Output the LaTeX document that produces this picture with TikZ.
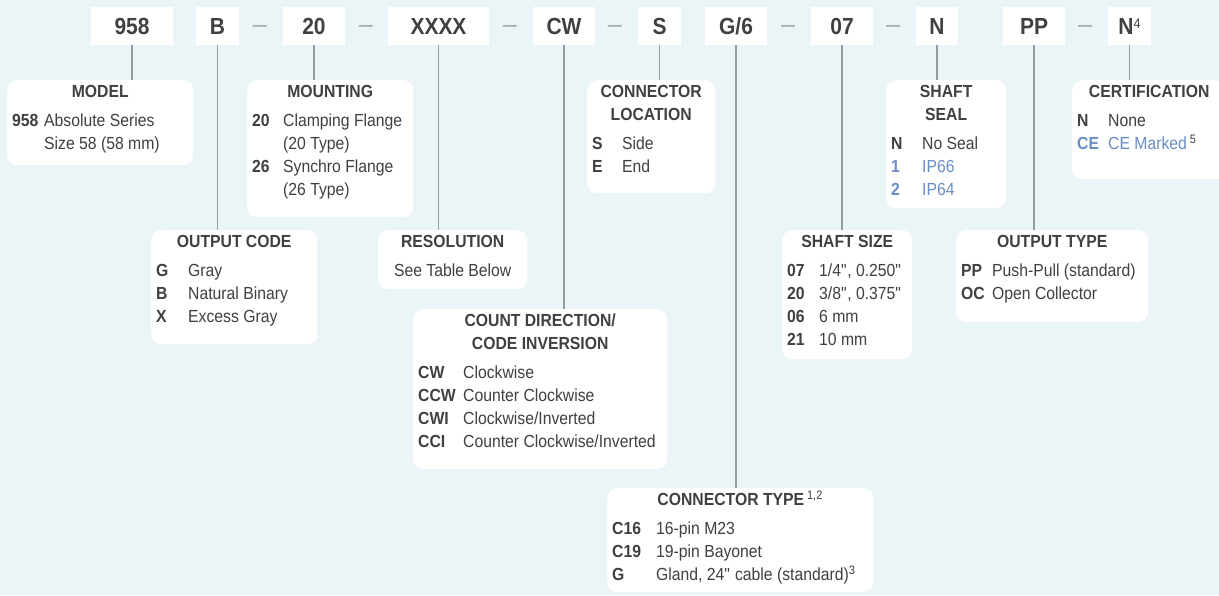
\documentclass[tikz,border=0pt]{standalone}
\usepackage{fontspec}
\setmainfont[FakeStretch=0.9]{Liberation Sans}
\usepackage{array}

\definecolor{bgblue}{HTML}{EBF4F7}
\definecolor{ink}{HTML}{404040}
\definecolor{leadgray}{HTML}{8E9EA1}
\definecolor{dashgray}{HTML}{A7B1B4}
\definecolor{optblue}{HTML}{6A8DC6}

\newcommand\bodyfont{\fontsize{17.5}{23}\selectfont}
\newcommand\headfont{\bfseries\fontsize{17.5}{23}\selectfont}
\newcommand\inch{\textquotedbl}
% heading of a panel, then the option list
\newcommand\heading[1]{{\centering\headfont\rule{0pt}{17.5pt}#1\par}\vspace{6pt}}
\newcommand\optlist[2]{\hspace*{5pt}\begin{tabular}[t]{@{}>{\bfseries}p{#1pt}@{}l@{}}#2\end{tabular}}
\newcommand\opt[2]{\textcolor{optblue}{#1} & \textcolor{optblue}{#2}}
% name, x, y, width, height, contents
\newcommand\panel[6]{\node[panel] (#1) at (#2,#3) {\parbox[t][#5pt][t]{#4pt}{#6}};}

\begin{document}
\begin{tikzpicture}[x=1pt, y=-1pt,
    code/.style={fill=white, inner sep=0pt, minimum height=38pt, text height=16.7pt, text depth=0pt, text=ink, font=\bfseries\fontsize{23.3}{28}\selectfont},
    sep/.style={anchor=base, inner sep=0pt, text=dashgray, font=\fontsize{28}{30}\selectfont},
    panel/.style={fill=white, rounded corners=10pt, inner sep=0pt, anchor=north west, text=ink, font=\bodyfont},
    lead/.style={draw=leadgray, line width=1.6pt}]

    \useasboundingbox (0,0) rectangle (1219,595);
    \clip (0,0) rectangle (1219,595);
    \fill[bgblue] (0,0) rectangle (1219,595);

    % Part number
    \node[code, minimum width=82pt] at (132,26) (c958) {958};
    \node[code, minimum width=43pt] at (217.5,26) (cB) {B};
    \node[code, minimum width=62pt] at (314,26) (c20) {20};
    \node[code, minimum width=101pt] at (438.5,26) (cXXXX) {XXXX};
    \node[code, minimum width=62pt] at (564,26) (cCW) {CW};
    \node[code, minimum width=43pt] at (659.5,26) (cS) {S};
    \node[code, minimum width=62pt] at (736,26) (cG) {G/6};
    \node[code, minimum width=62pt] at (842,26) (c07) {07};
    \node[code, minimum width=42pt] at (937,26) (cN) {N};
    \node[code, minimum width=62pt] at (1034,26) (cPP) {PP};
    \node[code, minimum width=43pt] at (1129.5,26) (cN4) {N\raisebox{6pt}{\mdseries\fontsize{14}{14}\selectfont 4}};

    \node[sep] at (260,33) (d1) {–};
    \node[sep] at (366,33) (d2) {–};
    \node[sep] at (510,33) (d3) {–};
    \node[sep] at (615,33) (d4) {–};
    \node[sep] at (788,33) (d5) {–};
    \node[sep] at (893,33) (d6) {–};
    \node[sep] at (1085,33) (d7) {–};

    % Panels
    \panel{model}{7}{80}{186}{85}{\heading{MODEL}\optlist{32}{958 & Absolute Series\\ & Size 58 (58 mm)\\}}
    \panel{mounting}{247}{80}{166}{137}{\heading{MOUNTING}\optlist{31}{20 & Clamping Flange\\ & (20 Type)\\ 26 & Synchro Flange\\ & (26 Type)\\}}
    \panel{connloc}{587}{80}{128}{113}{\heading{CONNECTOR\\LOCATION}\optlist{30}{S & Side\\ E & End\\}}
    \panel{shaftseal}{886}{80}{120}{128}{\heading{SHAFT\\SEAL}\optlist{31}{N & No Seal\\ \opt{1}{IP66}\\ \opt{2}{IP64}\\}}
    \panel{cert}{1072}{80}{154}{99}{\heading{CERTIFICATION}\optlist{31}{N & None\\ \opt{CE}{CE Marked}\,\textsuperscript{5}\\}}
    \panel{outcode}{151}{230}{166}{114}{\heading{OUTPUT CODE}\optlist{32}{G & Gray\\ B & Natural Binary\\ X & Excess Gray\\}}
    \panel{resolution}{378}{230}{149}{59}{\heading{RESOLUTION}{\centering See Table Below\par}}
    \panel{countdir}{413}{309}{254}{160}{\heading{COUNT DIRECTION/\\CODE INVERSION}\optlist{45}{CW & Clockwise\\ CCW & Counter Clockwise\\ CWI & Clockwise/Inverted\\ CCI & Counter Clockwise/Inverted\\}}
    \panel{conntype}{607}{488}{266}{104}{\heading{CONNECTOR TYPE\,\textsuperscript{\mdseries 1,2}}\optlist{44}{C16 & 16-pin M23\\ C19 & 19-pin Bayonet\\ G & Gland, 24\inch{} cable (standard)\textsuperscript{3}\\}}
    \panel{shaftsize}{782}{230}{130}{129}{\heading{SHAFT SIZE}\optlist{32}{07 & 1/4\inch, 0.250\inch\\ 20 & 3/8\inch, 0.375\inch\\ 06 & 6 mm\\ 21 & 10 mm\\}}
    \panel{outtype}{956}{230}{192}{92}{\heading{OUTPUT TYPE}\optlist{31}{PP & Push-Pull (standard)\\ OC & Open Collector\\}}

    % Leads
    \draw[lead] (c958) -- (c958 |- model.north);
    \draw[lead] (cB) -- (cB |- outcode.north);
    \draw[lead] (c20) -- (c20 |- mounting.north);
    \draw[lead] (cXXXX) -- (cXXXX |- resolution.north);
    \draw[lead] (cCW) -- (cCW |- countdir.north);
    \draw[lead] (cS) -- (cS |- connloc.north);
    \draw[lead] (cG) -- (cG |- conntype.north);
    \draw[lead] (c07) -- (c07 |- shaftsize.north);
    \draw[lead] (cN) -- (cN |- shaftseal.north);
    \draw[lead] (cPP) -- (cPP |- outtype.north);
    \draw[lead] (cN4) -- (cN4 |- cert.north);

\end{tikzpicture}
\end{document}
